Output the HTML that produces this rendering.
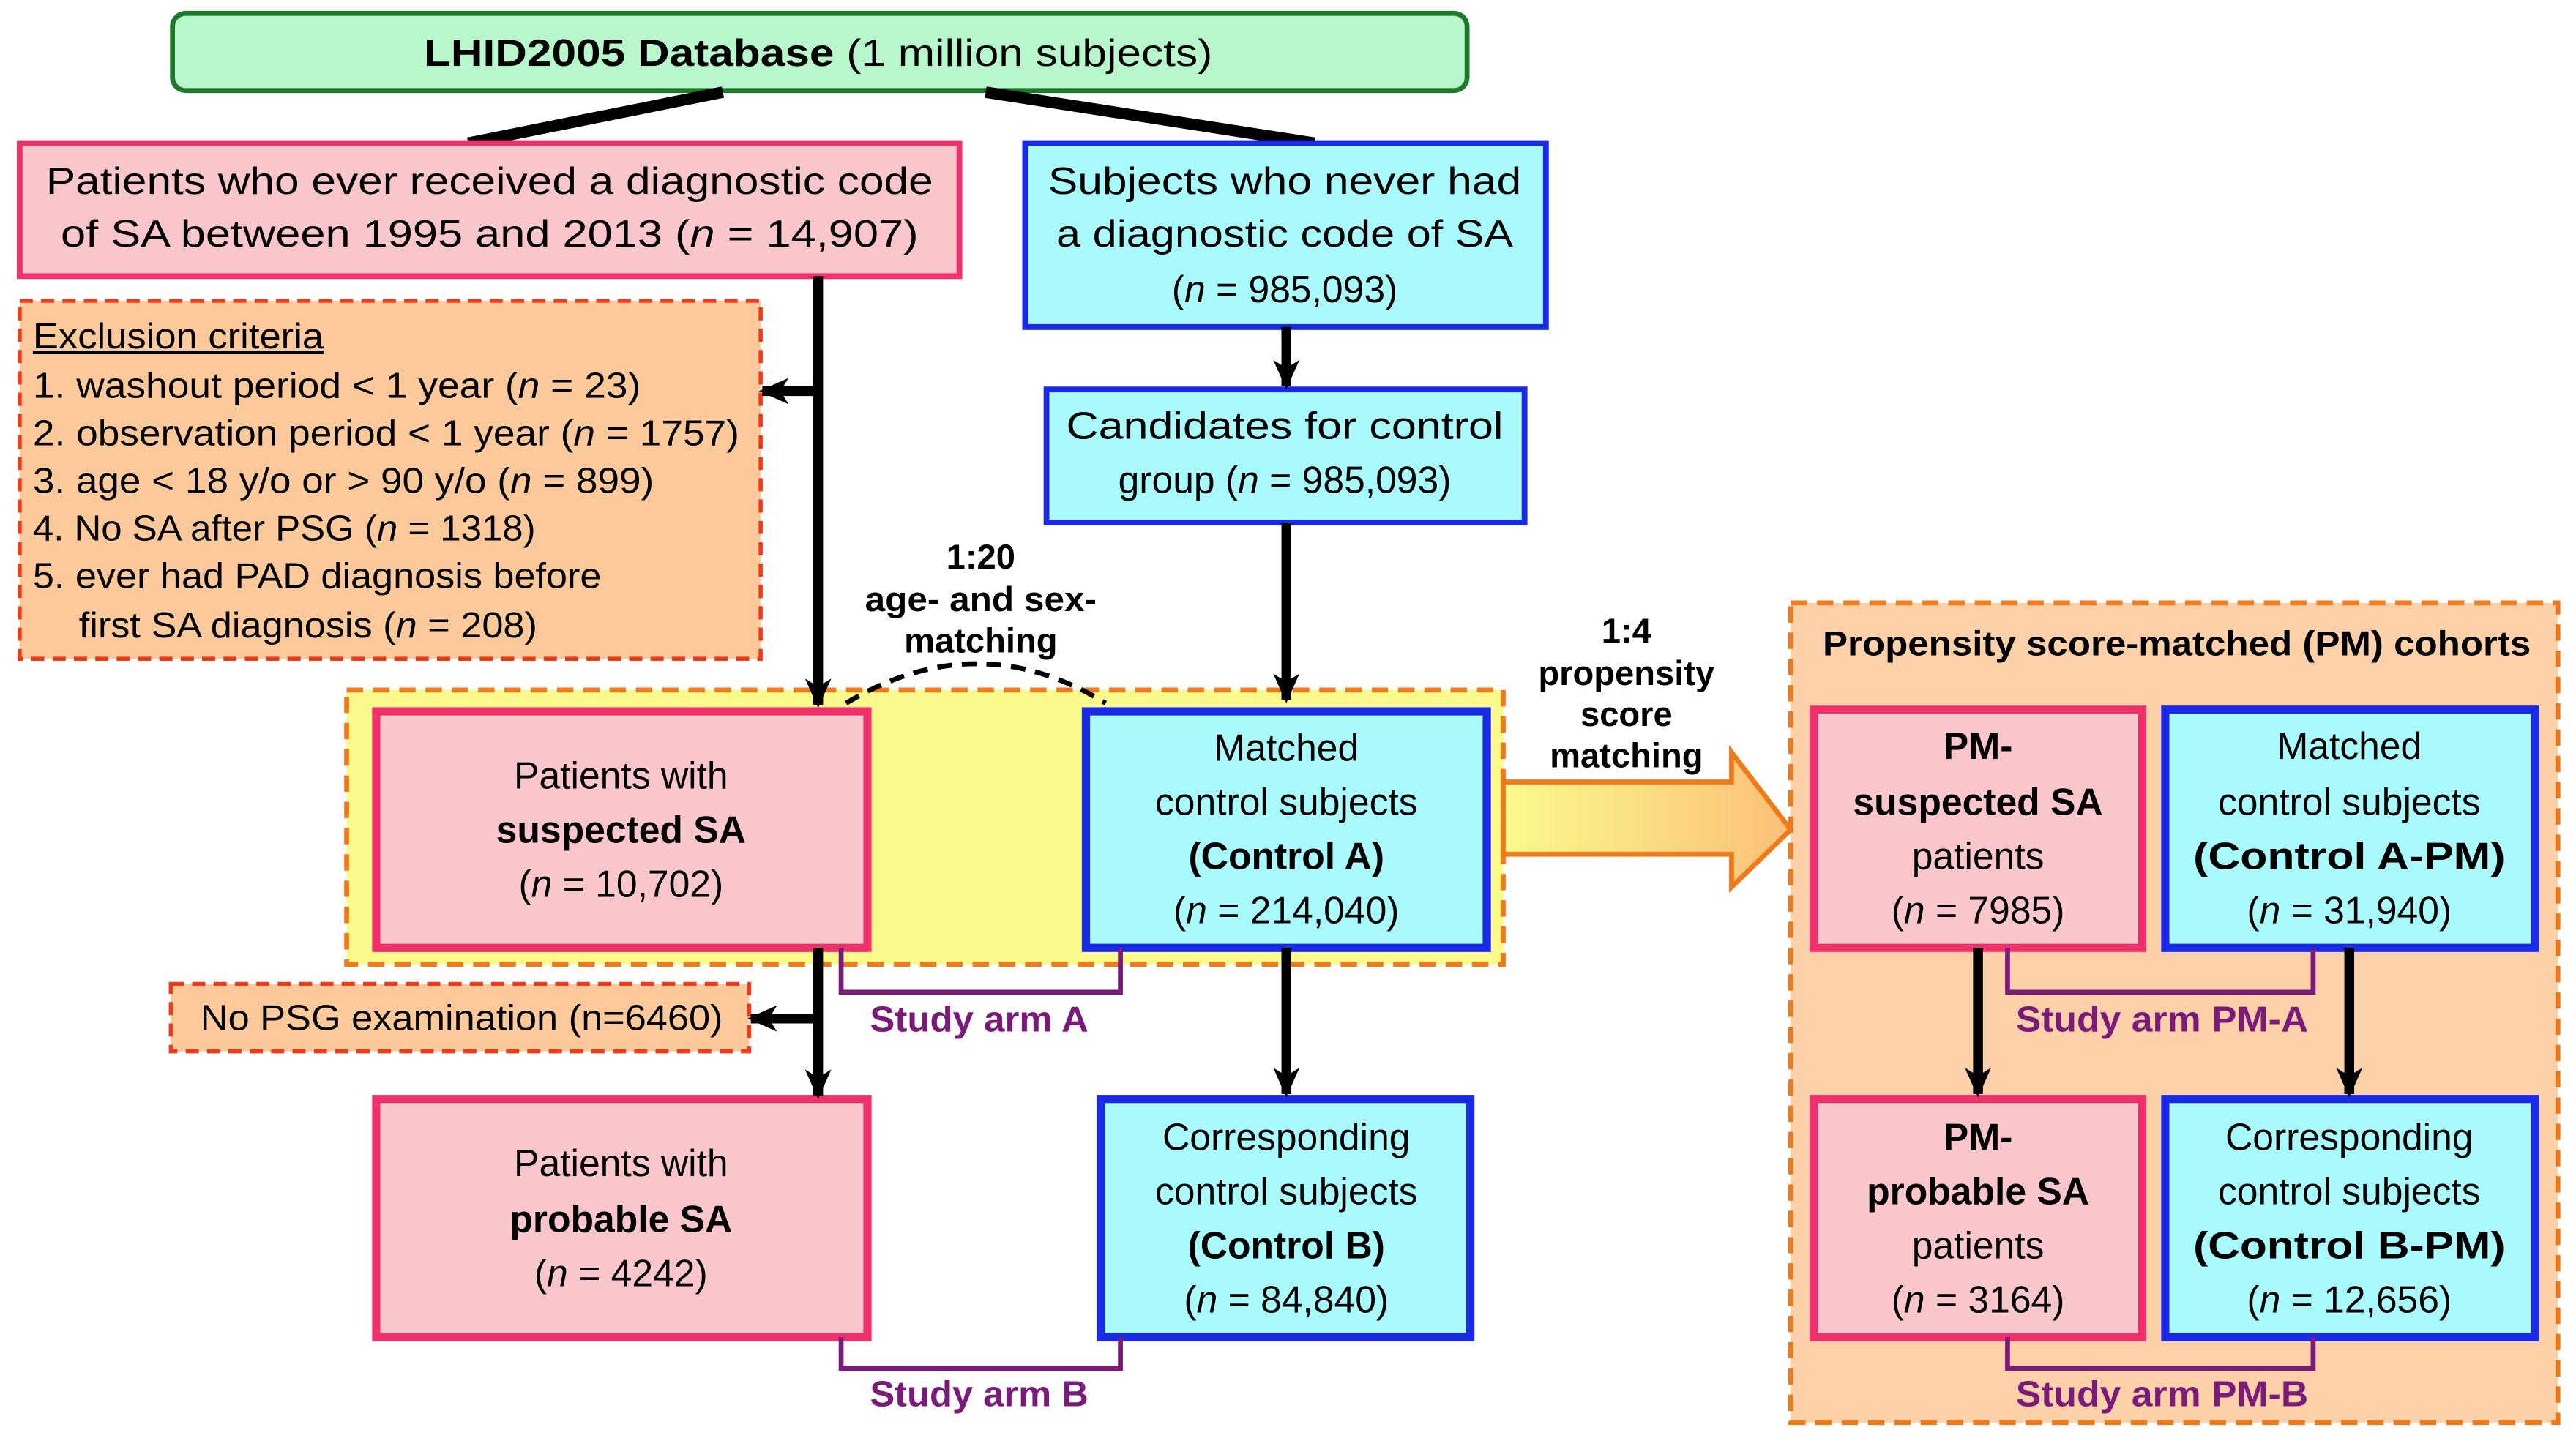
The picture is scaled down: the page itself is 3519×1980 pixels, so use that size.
<!DOCTYPE html>
<html><head><meta charset="utf-8"><style>html,body{margin:0;padding:0;background:#fff}svg{display:block}</style></head>
<body>
<svg width="3519" height="1980" viewBox="0 0 1568 882" xmlns="http://www.w3.org/2000/svg" font-family="Liberation Sans, sans-serif">
<defs>
<marker id="ah" markerWidth="20" markerHeight="20" refX="16" refY="10" orient="auto" markerUnits="userSpaceOnUse"><path d="M0,2 L18,10 L0,18 L5,10 Z" fill="#000"/></marker>
<linearGradient id="og" x1="0" x2="1"><stop offset="0" stop-color="#fafa8a"/><stop offset="1" stop-color="#fbbf7a"/></linearGradient>
</defs>
<rect width="1568" height="882" fill="#fff"/>
<rect x="105" y="8" width="788" height="47" rx="8" fill="#b8f7cc" stroke="#1a7a2a" stroke-width="3"/>
<text x="498" y="40" font-size="23" text-anchor="middle" textLength="480" lengthAdjust="spacingAndGlyphs"><tspan font-weight="bold">LHID2005 Database</tspan>  (1 million subjects)</text>
<line x1="440" y1="56" x2="285" y2="87" stroke="#000" stroke-width="7"/>
<line x1="600" y1="56" x2="800" y2="87" stroke="#000" stroke-width="7"/>
<rect x="12" y="183" width="451" height="218" fill="#fcc99a" stroke="#f03a1a" stroke-width="2.5" stroke-dasharray="8,5"/>
<rect x="211" y="420" width="704" height="167" fill="#fafa8a" stroke="#f07a1a" stroke-width="3" stroke-dasharray="10,6"/>
<rect x="1090" y="367" width="467" height="499" fill="#fcd0a8" stroke="#f07a1a" stroke-width="3" stroke-dasharray="10,6"/>
<rect x="104" y="599" width="352" height="41" fill="#fcc99a" stroke="#f03a1a" stroke-width="2.5" stroke-dasharray="8,5"/>
<g stroke-width="3.5">
<rect x="12" y="87" width="572" height="81" fill="#f9c6cc" stroke="#f0306a"/>
<rect x="624" y="87" width="317" height="112" fill="#a8fafc" stroke="#1a2ae8"/>
<rect x="637" y="237" width="291" height="81" fill="#a8fafc" stroke="#1a2ae8"/>
<rect x="229" y="433" width="299" height="144" fill="#f9c6cc" stroke="#f0306a" stroke-width="5"/>
<rect x="661" y="433" width="244" height="144" fill="#a8fafc" stroke="#1a2ae8" stroke-width="5"/>
<rect x="229" y="669" width="299" height="145" fill="#f9c6cc" stroke="#f0306a" stroke-width="5"/>
<rect x="670" y="669" width="225" height="145" fill="#a8fafc" stroke="#1a2ae8" stroke-width="5"/>
<rect x="1104" y="432" width="200" height="145" fill="#f9c6cc" stroke="#f0306a" stroke-width="5"/>
<rect x="1318" y="432" width="225" height="145" fill="#a8fafc" stroke="#1a2ae8" stroke-width="5"/>
<rect x="1104" y="669" width="200" height="145" fill="#f9c6cc" stroke="#f0306a" stroke-width="5"/>
<rect x="1318" y="669" width="225" height="145" fill="#a8fafc" stroke="#1a2ae8" stroke-width="5"/>
</g>
<g stroke="#000" stroke-width="6" fill="none">
<line x1="498" y1="168" x2="498" y2="429" marker-end="url(#ah)"/>
<line x1="498" y1="238" x2="464" y2="238" marker-end="url(#ah)"/>
<line x1="783" y1="199" x2="783" y2="235" marker-end="url(#ah)"/>
<line x1="783" y1="318" x2="783" y2="426" marker-end="url(#ah)"/>
<line x1="498" y1="577" x2="498" y2="667" marker-end="url(#ah)"/>
<line x1="498" y1="620" x2="457" y2="620" marker-end="url(#ah)"/>
<line x1="783" y1="577" x2="783" y2="666" marker-end="url(#ah)"/>
<line x1="1204" y1="577" x2="1204" y2="666" marker-end="url(#ah)"/>
<line x1="1430" y1="577" x2="1430" y2="666" marker-end="url(#ah)"/>
</g>
<path d="M515,428 Q595,380 673,428" stroke="#000" stroke-width="3" fill="none" stroke-dasharray="9,6"/>
<g stroke="#7a1a7a" stroke-width="3" fill="none">
<path d="M512,577 V604 H682 V577"/>
<path d="M512,814 V833 H682 V814"/>
<path d="M1222,577 V604 H1408 V577"/>
<path d="M1222,814 V833 H1408 V814"/>
</g>
<path d="M915,476 H1054 V458 L1090,505 L1054,540 V520 H915 Z" fill="url(#og)" stroke="#f07a1a" stroke-width="3"/>
<g font-size="23" text-anchor="middle" fill="#000">
<text x="298" y="118" textLength="540" lengthAdjust="spacingAndGlyphs">Patients who ever received a diagnostic code</text>
<text x="298" y="150" textLength="522" lengthAdjust="spacingAndGlyphs">of SA between 1995 and 2013   (<tspan font-style="italic">n</tspan> = 14,907)</text>
<text x="782" y="118" textLength="288" lengthAdjust="spacingAndGlyphs">Subjects who never had</text>
<text x="782" y="150" textLength="278" lengthAdjust="spacingAndGlyphs">a diagnostic code of SA</text>
<text x="782" y="184">(<tspan font-style="italic">n</tspan> = 985,093)</text>
<text x="782" y="267" textLength="266" lengthAdjust="spacingAndGlyphs">Candidates for control</text>
<text x="782" y="300">group (<tspan font-style="italic">n</tspan> = 985,093)</text>
<text x="378" y="480">Patients with</text>
<text x="378" y="513" font-weight="bold">suspected SA</text>
<text x="378" y="546">(<tspan font-style="italic">n</tspan> = 10,702)</text>
<text x="783" y="463">Matched</text>
<text x="783" y="496">control subjects</text>
<text x="783" y="529" font-weight="bold">(Control A)</text>
<text x="783" y="562">(<tspan font-style="italic">n</tspan> = 214,040)</text>
<text x="378" y="716">Patients with</text>
<text x="378" y="750" font-weight="bold">probable SA</text>
<text x="378" y="783">(<tspan font-style="italic">n</tspan> = 4242)</text>
<text x="783" y="700">Corresponding</text>
<text x="783" y="733">control subjects</text>
<text x="783" y="766" font-weight="bold">(Control B)</text>
<text x="783" y="799">(<tspan font-style="italic">n</tspan> = 84,840)</text>
<text x="1204" y="462" font-weight="bold">PM-</text>
<text x="1204" y="496" font-weight="bold">suspected SA</text>
<text x="1204" y="529">patients</text>
<text x="1204" y="562">(<tspan font-style="italic">n</tspan> = 7985)</text>
<text x="1430" y="462">Matched</text>
<text x="1430" y="496">control subjects</text>
<text x="1430" y="529" font-weight="bold" textLength="190" lengthAdjust="spacingAndGlyphs">(Control A-PM)</text>
<text x="1430" y="562">(<tspan font-style="italic">n</tspan> = 31,940)</text>
<text x="1204" y="700" font-weight="bold">PM-</text>
<text x="1204" y="733" font-weight="bold">probable SA</text>
<text x="1204" y="766">patients</text>
<text x="1204" y="799">(<tspan font-style="italic">n</tspan> = 3164)</text>
<text x="1430" y="700">Corresponding</text>
<text x="1430" y="733">control subjects</text>
<text x="1430" y="766" font-weight="bold" textLength="190" lengthAdjust="spacingAndGlyphs">(Control B-PM)</text>
<text x="1430" y="799">(<tspan font-style="italic">n</tspan> = 12,656)</text>
</g>
<g font-size="22" fill="#000">
<text x="20" y="212" text-decoration="underline" textLength="177" lengthAdjust="spacingAndGlyphs">Exclusion criteria</text>
<text x="20" y="242" textLength="370" lengthAdjust="spacingAndGlyphs">1. washout period &lt; 1 year (<tspan font-style="italic">n</tspan> = 23)</text>
<text x="20" y="271" textLength="430" lengthAdjust="spacingAndGlyphs">2. observation period &lt; 1 year (<tspan font-style="italic">n</tspan> = 1757)</text>
<text x="20" y="300" textLength="378" lengthAdjust="spacingAndGlyphs">3. age &lt; 18 y/o or &gt; 90 y/o (<tspan font-style="italic">n</tspan> = 899)</text>
<text x="20" y="329" textLength="306" lengthAdjust="spacingAndGlyphs">4. No SA after PSG (<tspan font-style="italic">n</tspan> = 1318)</text>
<text x="20" y="358" textLength="346" lengthAdjust="spacingAndGlyphs">5. ever had PAD diagnosis before</text>
<text x="48" y="388" textLength="279" lengthAdjust="spacingAndGlyphs">first SA diagnosis (<tspan font-style="italic">n</tspan> = 208)</text>
<text x="281" y="627" text-anchor="middle" textLength="318" lengthAdjust="spacingAndGlyphs">No PSG examination (n=6460)</text>
</g>
<g font-size="21" font-weight="bold" text-anchor="middle" fill="#000">
<text x="597" y="346">1:20</text>
<text x="597" y="372" textLength="141" lengthAdjust="spacingAndGlyphs">age- and sex-</text>
<text x="597" y="397">matching</text>
<text x="990" y="391">1:4</text>
<text x="990" y="417">propensity</text>
<text x="990" y="442">score</text>
<text x="990" y="467">matching</text>
<text x="1325" y="399" textLength="431" lengthAdjust="spacingAndGlyphs">Propensity score-matched (PM) cohorts</text>
</g>
<g font-size="22" font-weight="bold" text-anchor="middle" fill="#7a1a7a">
<text x="596" y="628" textLength="133" lengthAdjust="spacingAndGlyphs">Study arm A</text>
<text x="596" y="856" textLength="133" lengthAdjust="spacingAndGlyphs">Study arm B</text>
<text x="1316" y="628" textLength="178" lengthAdjust="spacingAndGlyphs">Study arm PM-A</text>
<text x="1316" y="856" textLength="178" lengthAdjust="spacingAndGlyphs">Study arm PM-B</text>
</g>
</svg>
</body></html>
